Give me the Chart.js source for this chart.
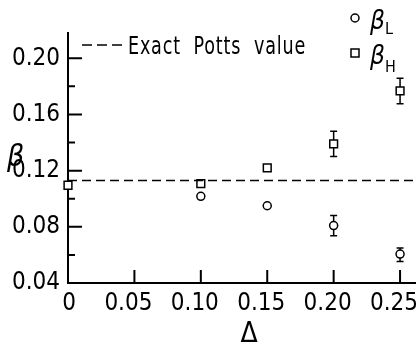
<!DOCTYPE html>
<html>
<head>
<meta charset="utf-8">
<script src="https://cdn.jsdelivr.net/npm/chart.js@4/dist/chart.umd.min.js"></script>
<style>
  html, body { margin: 0; padding: 0; background: #fff; }
  #wrap { width: 416px; height: 342px; }
</style>
</head>
<body>
<div id="wrap"><canvas id="betaChart" width="416" height="342"></canvas></div>
<script>
// values
var pottsValue = 0.113;

var deltaL = [0.10, 0.15, 0.20, 0.25];
var betaL = [0.1017, 0.095, 0.0809, 0.0606];
var betaLLow = [null, null, 0.0736, 0.0553];
var betaLHigh = [null, null, 0.088, 0.065];

var deltaH = [0, 0.10, 0.15, 0.20, 0.25];
var betaH = [0.1096, 0.1108, 0.122, 0.139, 0.1768];
var betaHLow = [null, null, 0.1207, 0.130, 0.1677];
var betaHHigh = [null, null, 0.1233, 0.148, 0.1857];

var yMajor = [0.04, 0.08, 0.12, 0.16, 0.20];
var yMinor = [0.06, 0.10, 0.14, 0.18];
var xMajor = [0.05, 0.10, 0.15, 0.20, 0.25];
var xLabelValues = [0, 0.05, 0.10, 0.15, 0.20, 0.25];
var xLabels = ['0', '0.05', '0.10', '0.15', '0.20', '0.25'];
var xEnd = 0.262;

var FONT = '"Liberation Sans Narrow", "DejaVu Sans Condensed", sans-serif';

function pts(xs, ys) {
    return xs.map(function (x, i) { return { x: x, y: ys[i] }; });
}

var errorBars = {
    id: 'errorBars',
    beforeDatasetsDraw: function (chart) {
        var ctx = chart.ctx, xs = chart.scales.x, ys = chart.scales.y;
        ctx.save();
        ctx.strokeStyle = '#000';
        ctx.lineWidth = 1.5;
        chart.data.datasets.forEach(function (ds) {
            if (!ds.errLow) return;
            ds.data.forEach(function (p, i) {
                if (ds.errLow[i] == null) return;
                var px = xs.getPixelForValue(p.x);
                var lo = ys.getPixelForValue(ds.errLow[i]);
                var hi = ys.getPixelForValue(ds.errHigh[i]);
                ctx.beginPath();
                ctx.moveTo(px, lo); ctx.lineTo(px, hi);
                ctx.moveTo(px - 3.5, lo); ctx.lineTo(px + 3.5, lo);
                ctx.moveTo(px - 3.5, hi); ctx.lineTo(px + 3.5, hi);
                ctx.stroke();
            });
        });
        ctx.restore();
    }
};

var decorations = {
    id: 'decorations',
    afterDraw: function (chart) {
        var ctx = chart.ctx, xs = chart.scales.x, ys = chart.scales.y;
        var a = chart.chartArea;
        ctx.save();
        ctx.strokeStyle = '#000';
        ctx.lineWidth = 2;
        ctx.beginPath();
        ctx.moveTo(a.left, a.bottom); ctx.lineTo(xs.getPixelForValue(xEnd), a.bottom);
        yMajor.forEach(function (v) {
            var py = ys.getPixelForValue(v);
            ctx.moveTo(a.left, py); ctx.lineTo(a.left + 14, py);
        });
        yMinor.forEach(function (v) {
            var py = ys.getPixelForValue(v);
            ctx.moveTo(a.left, py); ctx.lineTo(a.left + 7, py);
        });
        xMajor.forEach(function (v) {
            var px = xs.getPixelForValue(v);
            ctx.moveTo(px, a.bottom); ctx.lineTo(px, a.bottom - 13);
        });
        ctx.stroke();

        // x tick labels (hand lettered a little left of the ticks)
        ctx.fillStyle = '#000';
        ctx.textAlign = 'center';
        ctx.textBaseline = 'alphabetic';
        ctx.font = '24px ' + FONT;
        xLabelValues.forEach(function (v, i) {
            var px = xs.getPixelForValue(v) + (v === 0 ? 1 : -6);
            ctx.fillText(xLabels[i], px, a.bottom + 27);
        });
        ctx.textAlign = 'left';

        // legend for the dashed line
        ctx.lineWidth = 1.5;
        ctx.setLineDash([10, 5]);
        ctx.beginPath();
        ctx.moveTo(82, 45); ctx.lineTo(127, 45);
        ctx.stroke();
        ctx.setLineDash([]);
        ctx.letterSpacing = '1px';
        ctx.fillText('Exact  Potts  value', 128, 54, 178);
        ctx.letterSpacing = '0px';

        // legend for the two series
        ctx.fillStyle = '#fff';
        ctx.beginPath();
        ctx.arc(355, 18, 4, 0, Math.PI * 2);
        ctx.fill(); ctx.stroke();
        ctx.fillRect(351, 49, 8, 8);
        ctx.strokeRect(351, 49, 8, 8);
        ctx.fillStyle = '#000';
        ctx.font = 'italic 26px ' + FONT;
        ctx.fillText('\u03b2', 370, 29);
        ctx.fillText('\u03b2', 370, 64);
        ctx.font = '16px ' + FONT;
        ctx.fillText('L', 385, 34);
        ctx.fillText('H', 385, 72);

        // axis symbols
        ctx.font = 'italic 30px ' + FONT;
        ctx.fillText('\u03b2', 7, 166);
        ctx.textAlign = 'center';
        ctx.font = '28px ' + FONT;
        ctx.fillText('\u0394', 249, 342);
        ctx.restore();
    }
};

new Chart(document.getElementById('betaChart'), {
    type: 'scatter',
    data: {
        datasets: [
            {
                label: 'Exact Potts value',
                type: 'line',
                data: [{ x: 0, y: pottsValue }, { x: xEnd, y: pottsValue }],
                borderColor: '#000',
                borderWidth: 1.5,
                borderDash: [9, 5],
                pointRadius: 0,
                fill: false
            },
            {
                label: '\u03b2L',
                data: pts(deltaL, betaL),
                errLow: betaLLow,
                errHigh: betaLHigh,
                pointStyle: 'circle',
                pointRadius: 4,
                pointBorderWidth: 1.5,
                pointBorderColor: '#000',
                pointBackgroundColor: '#fff'
            },
            {
                label: '\u03b2H',
                data: pts(deltaH, betaH),
                errLow: betaHLow,
                errHigh: betaHHigh,
                pointStyle: 'rect',
                pointRadius: 5.5,
                pointBorderWidth: 1.5,
                pointBorderColor: '#000',
                pointBackgroundColor: '#fff'
            }
        ]
    },
    options: {
        responsive: false,
        animation: false,
        clip: false,
        layout: { autoPadding: false, padding: { top: 33, right: 0, left: 0, bottom: 0 } },
        plugins: { legend: { display: false }, tooltip: { enabled: false } },
        scales: {
            x: {
                type: 'linear',
                min: 0,
                max: xEnd,
                grid: { display: false },
                border: { display: false },
                ticks: { display: false },
                afterFit: function (s) { s.height = 59; }
            },
            y: {
                type: 'linear',
                min: 0.04,
                max: 0.218,
                grid: { display: false },
                border: { display: true, color: '#000', width: 2 },
                ticks: {
                    stepSize: 0.04,
                    includeBounds: false,
                    color: '#000',
                    padding: 0,
                    font: { family: FONT, size: 24 },
                    callback: function (v) { return v.toFixed(2); }
                },
                afterFit: function (s) { s.width = 68; }
            }
        }
    },
    plugins: [errorBars, decorations]
});
</script>
</body>
</html>
